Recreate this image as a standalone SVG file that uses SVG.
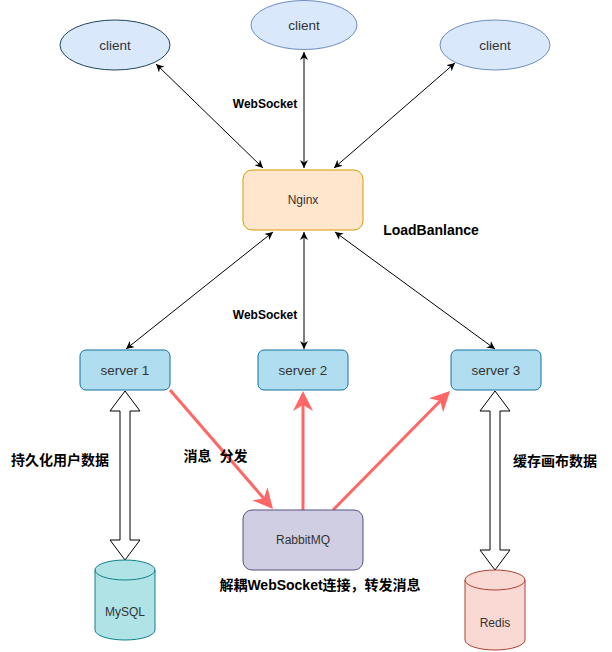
<svg xmlns="http://www.w3.org/2000/svg" width="612" height="652" viewBox="0 0 612 652">
<style>
.lbl{font-family:"Liberation Sans",Arial,sans-serif;fill:#333333;text-anchor:middle;dominant-baseline:central}
.bold{font-family:"Liberation Sans","Noto Sans CJK SC",sans-serif;font-weight:bold;fill:#000000;text-anchor:middle;dominant-baseline:central}
.conn{fill:none;stroke:#000000;stroke-width:1}
.red{fill:none;stroke:#FF6666;stroke-width:3}
.flex{fill:#ffffff;stroke:#000000;stroke-width:1}
</style>
<defs>
<marker id="arr" viewBox="0 0 10 10" refX="10" refY="5" markerWidth="8" markerHeight="8" markerUnits="userSpaceOnUse" orient="auto-start-reverse">
<path d="M0,0 L10,5 L0,10 L3,5 z" fill="#000000"/>
</marker>
<marker id="redarr" viewBox="0 0 20 20" refX="6" refY="10" markerWidth="20" markerHeight="20" markerUnits="userSpaceOnUse" orient="auto">
<path d="M0,0 L20,10 L0,20 L6,10 z" fill="#FF6666"/>
</marker>
</defs>
<rect x="0" y="0" width="612" height="652" fill="#ffffff"/>

<g id="connectors">
<line class="conn" x1="156" y1="64" x2="263" y2="168" marker-start="url(#arr)" marker-end="url(#arr)"/>
<line class="conn" x1="304" y1="52" x2="304" y2="168" marker-start="url(#arr)" marker-end="url(#arr)"/>
<line class="conn" x1="455" y1="63" x2="334" y2="168" marker-start="url(#arr)" marker-end="url(#arr)"/>
<line class="conn" x1="273" y1="232" x2="126" y2="349" marker-start="url(#arr)" marker-end="url(#arr)"/>
<line class="conn" x1="304" y1="232" x2="304" y2="349" marker-start="url(#arr)" marker-end="url(#arr)"/>
<line class="conn" x1="335" y1="232" x2="495" y2="349" marker-start="url(#arr)" marker-end="url(#arr)"/>
<text class="bold" x="265" y="104" font-size="12">WebSocket</text>
<text class="bold" x="265" y="315" font-size="12">WebSocket</text>
<line class="red" x1="170" y1="390" x2="263.8" y2="498.4" marker-end="url(#redarr)"/>
<line class="red" x1="303" y1="510" x2="303" y2="405" marker-end="url(#redarr)"/>
<line class="red" x1="333" y1="510" x2="440.2" y2="401" marker-end="url(#redarr)"/>
<polygon class="flex" points="125,391 140,411 130,411 130,540 140,540 125,560 110,540 120,540 120,411 110,411"/>
<polygon class="flex" points="495,391 510,411 500,411 500,550 510,550 495,570 480,550 490,550 490,411 480,411"/>
<text class="bold" x="60" y="460" font-size="14">持久化用户数据</text>
<text class="bold" x="215.5" y="456" font-size="14" xml:space="preserve">消息  分发</text>
<text class="bold" x="555" y="461" font-size="14">缓存画布数据</text>
</g>

<g id="client1">
<ellipse cx="115" cy="45" rx="55" ry="25" fill="#dae8fc" stroke="#23445d"/>
<text class="lbl" x="115" y="45" font-size="13.5">client</text>
</g>
<g id="client2">
<ellipse cx="304" cy="25" rx="53" ry="24.5" fill="#dae8fc" stroke="#6c8ebf"/>
<text class="lbl" x="304" y="25" font-size="13.5">client</text>
</g>
<g id="client3">
<ellipse cx="495" cy="45" rx="55" ry="25" fill="#dae8fc" stroke="#6c8ebf"/>
<text class="lbl" x="495" y="45" font-size="13.5">client</text>
</g>

<g id="nginx">
<rect x="243" y="170" width="120" height="60" rx="9" fill="#ffe6cc" stroke="#d79b00"/>
<text class="lbl" x="303" y="200" font-size="12">Nginx</text>
<text class="bold" x="431" y="230" font-size="14">LoadBanlance</text>
</g>

<g id="server1">
<rect x="80" y="350" width="90" height="40" rx="6" fill="#b1ddf0" stroke="#10739e"/>
<text class="lbl" x="125" y="370" font-size="13.5">server 1</text>
</g>
<g id="server2">
<rect x="258" y="350" width="90" height="40" rx="6" fill="#b1ddf0" stroke="#10739e"/>
<text class="lbl" x="303" y="370" font-size="13.5">server 2</text>
</g>
<g id="server3">
<rect x="451" y="350" width="90" height="40" rx="6" fill="#b1ddf0" stroke="#10739e"/>
<text class="lbl" x="496" y="370" font-size="13.5">server 3</text>
</g>

<g id="rabbitmq">
<rect x="243" y="510" width="120" height="60" rx="9" fill="#d0cee2" stroke="#56517e"/>
<text class="lbl" x="303" y="540" font-size="12">RabbitMQ</text>
<text class="bold" x="320" y="585" font-size="14">解耦WebSocket连接，转发消息</text>
</g>

<g id="mysql">
<path d="M95,570 A30,10 0 0 1 155,570 L155,630 A30,10 0 0 1 95,630 Z" fill="#b0e3e6" stroke="#0e8088"/>
<path d="M95,570 A30,10 0 0 0 155,570" fill="none" stroke="#0e8088"/>
<text class="lbl" x="125" y="612" font-size="12">MySQL</text>
</g>

<g id="redis">
<path d="M465,580 A30,10 0 0 1 525,580 L525,640 A30,10 0 0 1 465,640 Z" fill="#fad9d5" stroke="#ae4132"/>
<path d="M465,580 A30,10 0 0 0 525,580" fill="none" stroke="#ae4132"/>
<text class="lbl" x="495" y="623" font-size="12">Redis</text>
</g>
</svg>
